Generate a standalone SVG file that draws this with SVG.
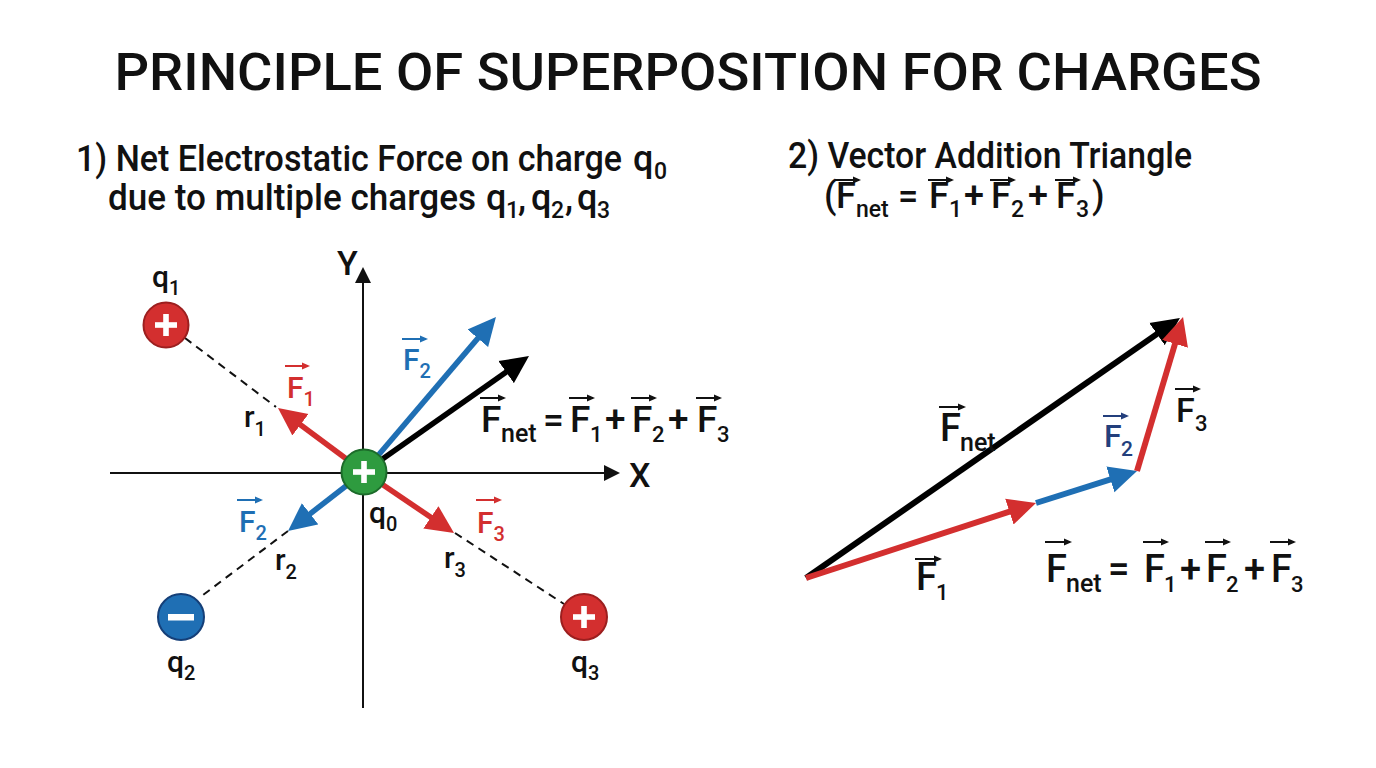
<svg xmlns="http://www.w3.org/2000/svg" width="1376" height="768" viewBox="0 0 1376 768">
<style>
text{font-family:Roboto,"Liberation Sans","DejaVu Sans",sans-serif;font-weight:500;fill:#111}
.title{font-size:52px;font-weight:500}
.hd{font-size:36px}
.hs{font-size:23px}
.lb{font-size:30px}
.sb{font-size:20px}
.eq{font-size:37px}
.es{font-size:22px}
.en{font-size:25px}
.red{fill:#d32f2f}
.blu{fill:#1f6fb4}
.nav{fill:#233f7c}
.axis{stroke:#111;stroke-width:2;fill:none}
.dash{stroke:#111;stroke-width:2;stroke-dasharray:8 6;fill:none}
.vK{stroke:#000;fill:none;marker-end:url(#hK)}
.vR{stroke:#d32f2f;fill:none;marker-end:url(#hR)}
.vB{stroke:#1f6fb4;fill:none;marker-end:url(#hB)}
.ovK{stroke:#111;stroke-width:2;fill:none;marker-end:url(#oK)}
.ovR{stroke:#d32f2f;stroke-width:2;fill:none;marker-end:url(#oR)}
.ovB{stroke:#1f6fb4;stroke-width:2;fill:none;marker-end:url(#oB)}
.ovN{stroke:#233f7c;stroke-width:2;fill:none;marker-end:url(#oN)}
.sign{fill:#fff}
</style>
<defs>
<marker id="hK" markerUnits="userSpaceOnUse" markerWidth="28" markerHeight="28" viewBox="0 0 28 28" refX="16" refY="14" orient="auto"><path d="M0,0.5 L28,14 L0,27.5 z" fill="#000"/></marker>
<marker id="hR" markerUnits="userSpaceOnUse" markerWidth="28" markerHeight="28" viewBox="0 0 28 28" refX="16" refY="14" orient="auto"><path d="M0,0.5 L28,14 L0,27.5 z" fill="#d32f2f"/></marker>
<marker id="hB" markerUnits="userSpaceOnUse" markerWidth="28" markerHeight="28" viewBox="0 0 28 28" refX="16" refY="14" orient="auto"><path d="M0,0.5 L28,14 L0,27.5 z" fill="#1f6fb4"/></marker>
<marker id="ax" markerUnits="userSpaceOnUse" markerWidth="16" markerHeight="16" viewBox="0 0 16 16" refX="12" refY="8" orient="auto"><path d="M0,0 L16,8 L0,16 z" fill="#111"/></marker>
<marker id="oK" markerUnits="userSpaceOnUse" markerWidth="8" markerHeight="8" viewBox="0 0 8 8" refX="6" refY="4" orient="auto"><path d="M0,0.5 L8,4 L0,7.5 z" fill="#111"/></marker>
<marker id="oR" markerUnits="userSpaceOnUse" markerWidth="8" markerHeight="8" viewBox="0 0 8 8" refX="6" refY="4" orient="auto"><path d="M0,0.5 L8,4 L0,7.5 z" fill="#d32f2f"/></marker>
<marker id="oB" markerUnits="userSpaceOnUse" markerWidth="8" markerHeight="8" viewBox="0 0 8 8" refX="6" refY="4" orient="auto"><path d="M0,0.5 L8,4 L0,7.5 z" fill="#1f6fb4"/></marker>
<marker id="oN" markerUnits="userSpaceOnUse" markerWidth="8" markerHeight="8" viewBox="0 0 8 8" refX="6" refY="4" orient="auto"><path d="M0,0.5 L8,4 L0,7.5 z" fill="#233f7c"/></marker>
</defs>
<rect width="1376" height="768" fill="#fff"/>

<g id="title">
<text class="title" x="688" y="90" text-anchor="middle" textLength="1147" lengthAdjust="spacingAndGlyphs">PRINCIPLE OF SUPERPOSITION FOR CHARGES</text>
</g>

<g id="heading-left">
<text class="hd" x="76" y="171" textLength="546" lengthAdjust="spacingAndGlyphs">1) Net Electrostatic Force on charge</text>
<text class="hd" x="633" y="171">q</text>
<text class="hs" x="654" y="179">0</text>
<text class="hd" x="108" y="210" textLength="368" lengthAdjust="spacingAndGlyphs">due to multiple charges</text>
<text class="hd" x="486" y="210">q</text>
<text class="hs" x="506" y="218">1</text>
<text class="hd" x="518" y="210">,</text>
<text class="hd" x="531" y="210">q</text>
<text class="hs" x="551" y="218">2</text>
<text class="hd" x="565" y="210">,</text>
<text class="hd" x="577" y="210">q</text>
<text class="hs" x="597" y="218">3</text>
</g>

<g id="heading-right">
<text class="hd" x="788" y="168" textLength="404" lengthAdjust="spacingAndGlyphs">2) Vector Addition Triangle</text>
<text class="hd" x="824" y="208">(</text>
<text class="hd" x="836" y="208">F</text>
<text class="hs" x="856" y="217">net</text>
<text class="hd" x="898" y="208">=</text>
<text class="hd" x="929" y="208">F</text>
<text class="hs" x="949" y="217">1</text>
<text class="hd" x="964" y="208">+</text>
<text class="hd" x="991" y="208">F</text>
<text class="hs" x="1011" y="217">2</text>
<text class="hd" x="1028" y="208">+</text>
<text class="hd" x="1056" y="208">F</text>
<text class="hs" x="1076" y="217">3</text>
<text class="hd" x="1092" y="208">)</text>
<path class="ovK" d="M835,180 H859"/>
<path class="ovK" d="M928,180 H952"/>
<path class="ovK" d="M990,180 H1014"/>
<path class="ovK" d="M1055,180 H1079"/>
</g>

<g id="connectors">
<path class="axis" d="M363,708 V271" marker-end="url(#ax)"/>
<path class="axis" d="M110,473 H616" marker-end="url(#ax)"/>
<path class="dash" d="M185,338 L276,407"/>
<path class="dash" d="M288,531 L203,595"/>
<path class="dash" d="M455,533 L564,604"/>
<path class="vK" stroke-width="5.5" d="M364,472 L519.2,362.9"/>
<path class="vB" stroke-width="5.5" d="M364,472 L488.2,326.1"/>
<path class="vR" stroke-width="5.5" d="M364,472 L287.6,415.2"/>
<path class="vB" stroke-width="5.5" d="M364,472 L297.5,523.6"/>
<path class="vR" stroke-width="5.5" d="M364,472 L444.1,526.3"/>
<path class="vK" stroke-width="6" d="M806,578 L1170.1,324.9"/>
<path class="vR" stroke-width="6" d="M806,578 L1024.6,506.7"/>
<path class="vB" stroke-width="6" d="M1036,503 L1125.6,474.6"/>
<path class="vR" stroke-width="6" d="M1137,471 L1179.6,328.5"/>
</g>

<g id="axis-labels">
<text x="337" y="275" style="font-size:34px">Y</text>
<text x="629" y="487" style="font-size:34px">X</text>
</g>

<g id="q0">
<circle cx="364" cy="472" r="22.5" fill="#2e9b3f" stroke="#1c6b2a" stroke-width="2"/>
<rect class="sign" x="353" y="469.2" width="22" height="5.6"/>
<rect class="sign" x="361.2" y="461" width="5.6" height="22"/>
<text class="lb" x="369" y="523">q<tspan class="sb" dy="8">0</tspan></text>
</g>
<g id="q1">
<circle cx="166" cy="325" r="22.5" fill="#d32f2f" stroke="#9c1f1f" stroke-width="2"/>
<rect class="sign" x="155" y="322.2" width="22" height="5.6"/>
<rect class="sign" x="163.2" y="314" width="5.6" height="22"/>
<text class="lb" x="152" y="287">q<tspan class="sb" dy="8">1</tspan></text>
</g>
<g id="q2">
<circle cx="181" cy="617" r="23" fill="#1f6fb4" stroke="#153f78" stroke-width="2"/>
<rect class="sign" x="168" y="614" width="26" height="6.5"/>
<text class="lb" x="167" y="672">q<tspan class="sb" dy="8">2</tspan></text>
</g>
<g id="q3">
<circle cx="584" cy="617" r="23" fill="#d32f2f" stroke="#9c1f1f" stroke-width="2"/>
<rect class="sign" x="573" y="614.2" width="22" height="5.6"/>
<rect class="sign" x="581.2" y="606" width="5.6" height="22"/>
<text class="lb" x="571" y="672">q<tspan class="sb" dy="8">3</tspan></text>
</g>

<g id="left-labels">
<text class="lb red" x="287" y="398">F<tspan class="sb red" dy="8">1</tspan></text>
<path class="ovR" d="M285,366 H308"/>
<text class="lb" x="244" y="427">r<tspan class="sb" dy="9">1</tspan></text>
<text class="lb blu" x="403" y="370">F<tspan class="sb blu" dy="8">2</tspan></text>
<path class="ovB" d="M402,339 H426"/>
<text class="lb blu" x="239" y="532">F<tspan class="sb blu" dy="8">2</tspan></text>
<path class="ovB" d="M237,500 H261"/>
<text class="lb" x="275" y="570">r<tspan class="sb" dy="9">2</tspan></text>
<text class="lb red" x="477" y="533">F<tspan class="sb red" dy="8">3</tspan></text>
<path class="ovR" d="M476,500 H500"/>
<text class="lb" x="444" y="568">r<tspan class="sb" dy="9">3</tspan></text>
</g>

<g id="left-equation">
<text class="eq" x="481" y="432">F</text>
<text class="en" x="501" y="442">net</text>
<text class="eq" x="543" y="432">=</text>
<text class="eq" x="570" y="432">F</text>
<text class="es" x="590" y="442">1</text>
<text class="eq" x="605" y="432">+</text>
<text class="eq" x="632" y="432">F</text>
<text class="es" x="652" y="442">2</text>
<text class="eq" x="668" y="432">+</text>
<text class="eq" x="697" y="432">F</text>
<text class="es" x="717" y="442">3</text>
<path class="ovK" d="M480,398 H504"/>
<path class="ovK" d="M569,398 H593"/>
<path class="ovK" d="M631,398 H655"/>
<path class="ovK" d="M696,398 H720"/>
</g>

<g id="triangle-labels">
<text x="940" y="441" style="font-size:38px">F</text>
<text x="960" y="451" class="en">net</text>
<path class="ovK" d="M939,407 H964"/>
<text x="916" y="590" style="font-size:38px">F</text>
<text x="936" y="600" class="es">1</text>
<path class="ovK" d="M915,559 H940"/>
<text class="nav" x="1104" y="447" style="font-size:32px">F</text>
<text class="nav" x="1121" y="456" style="font-size:21px">2</text>
<path class="ovN" d="M1103,416 H1127"/>
<text x="1176" y="422" style="font-size:34px">F</text>
<text x="1195" y="431" style="font-size:22px">3</text>
<path class="ovK" d="M1175,389 H1199"/>
</g>

<g id="right-equation">
<text x="1046" y="582" style="font-size:38px">F</text>
<text x="1066" y="592" class="en">net</text>
<text x="1108" y="582" style="font-size:38px">=</text>
<text x="1144" y="582" style="font-size:38px">F</text>
<text x="1164" y="592" class="es">1</text>
<text x="1180" y="582" style="font-size:38px">+</text>
<text x="1206" y="582" style="font-size:38px">F</text>
<text x="1226" y="592" class="es">2</text>
<text x="1244" y="582" style="font-size:38px">+</text>
<text x="1271" y="582" style="font-size:38px">F</text>
<text x="1291" y="592" class="es">3</text>
<path class="ovK" d="M1045,542 H1070"/>
<path class="ovK" d="M1143,542 H1167"/>
<path class="ovK" d="M1205,542 H1229"/>
<path class="ovK" d="M1270,542 H1294"/>
</g>
</svg>
